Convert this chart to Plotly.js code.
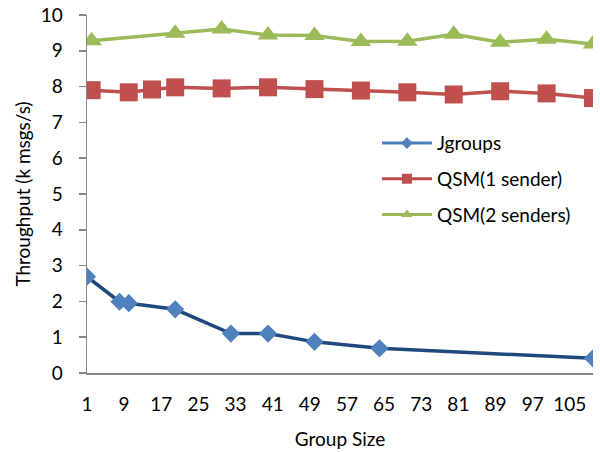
<!DOCTYPE html>
<html>
<head>
<meta charset="utf-8">
<script src="https://cdn.plot.ly/plotly-3.0.1.min.js"></script>
<style>html,body{margin:0;padding:0;background:#fff;}#chart{width:600px;height:453px;}</style>
</head>
<body>
<div id="chart"></div>
<script>
// Data
const seriesNames = ['Jgroups', 'QSM(1 sender)', 'QSM(2 senders)'];
const jgroupsX = [1, 8, 10, 20, 32, 40, 50, 64, 110];
const jgroupsY = [2.69, 1.99, 1.95, 1.78, 1.1, 1.1, 0.87, 0.69, 0.41];
const qsm1X = [2, 10, 15, 20, 30, 40, 50, 60, 70, 80, 90, 100, 110];
const qsm1Y = [7.9, 7.84, 7.92, 7.98, 7.95, 7.98, 7.93, 7.89, 7.84, 7.78, 7.87, 7.81, 7.68];
const qsm2X = [2, 20, 30, 40, 50, 60, 70, 80, 90, 100, 110];
const qsm2Y = [9.28, 9.49, 9.61, 9.44, 9.43, 9.26, 9.27, 9.46, 9.24, 9.32, 9.19];
const xTicks = [1, 9, 17, 25, 33, 41, 49, 57, 65, 73, 81, 89, 97, 105];
const yTicks = [0, 1, 2, 3, 4, 5, 6, 7, 8, 9, 10];

const FONT = 'Lato, "Liberation Sans", sans-serif';
const FS = 19;
const data = [
  {x: jgroupsX, y: jgroupsY, type: 'scatter', mode: 'lines+markers', name: seriesNames[0],
   showlegend: false, line: {color: '#1F497D', width: 3.5},
   marker: {symbol: 'diamond', size: 14, color: '#4F81BD'}},
  {x: qsm1X, y: qsm1Y, type: 'scatter', mode: 'lines+markers', name: seriesNames[1],
   showlegend: false, line: {color: '#C0504D', width: 3.5},
   marker: {symbol: 'square', size: 18, color: '#C0504D'}},
  {x: qsm2X, y: qsm2Y, type: 'scatter', mode: 'lines+markers', name: seriesNames[2],
   showlegend: false, line: {color: '#9BBB59', width: 3.5},
   marker: {symbol: 'triangle-up', size: 18, color: '#9BBB59'}},
  // legend entries (Excel style: thinner line, small marker)
  {x: [null], y: [null], type: 'scatter', mode: 'lines+markers', name: seriesNames[0], legendgroup: 'a',
   line: {color: '#4A7EBB', width: 3}, marker: {symbol: 'diamond', size: 9, color: '#4F81BD'}},
  {x: [null], y: [null], type: 'scatter', mode: 'lines+markers', name: seriesNames[1], legendgroup: 'b',
   line: {color: '#BE4B48', width: 3}, marker: {symbol: 'square', size: 10, color: '#C0504D'}},
  {x: [null], y: [null], type: 'scatter', mode: 'lines+markers', name: seriesNames[2], legendgroup: 'c',
   line: {color: '#98B954', width: 3}, marker: {symbol: 'triangle-up', size: 10, color: '#9BBB59'}}
];
const layout = {
  width: 600, height: 453,
  margin: {l: 87, r: 7, t: 15, b: 80},
  paper_bgcolor: '#fff', plot_bgcolor: '#fff',
  font: {family: FONT, size: FS, color: '#000'},
  showlegend: true,
  legend: {x: 0.573, y: 0.695, xanchor: 'left', yanchor: 'top', tracegroupgap: 8, itemwidth: 50,
           font: {family: FONT, size: FS, color: '#000'}, bgcolor: 'rgba(0,0,0,0)'},
  xaxis: {range: [1, 110], tickvals: xTicks, ticktext: xTicks.map(String),
          showgrid: false, zeroline: false, showline: true, linecolor: '#868686', linewidth: 1.5,
          ticks: '', ticklabelstandoff: 14,
          title: {text: 'Group Size', font: {family: FONT, size: FS}, standoff: 18}},
  yaxis: {range: [0, 10], tickvals: yTicks, showgrid: false, zeroline: false,
          showline: true, linecolor: '#868686', linewidth: 1.5,
          ticks: 'outside', ticklen: 7, tickcolor: '#868686', tickwidth: 1.5, ticklabelstandoff: 12,
          title: {text: 'Throughput (k msgs/s)', font: {family: FONT, size: FS}, standoff: 5}}
};
Plotly.newPlot('chart', data, layout, {displayModeBar: false, staticPlot: true});
</script>
</body>
</html>
